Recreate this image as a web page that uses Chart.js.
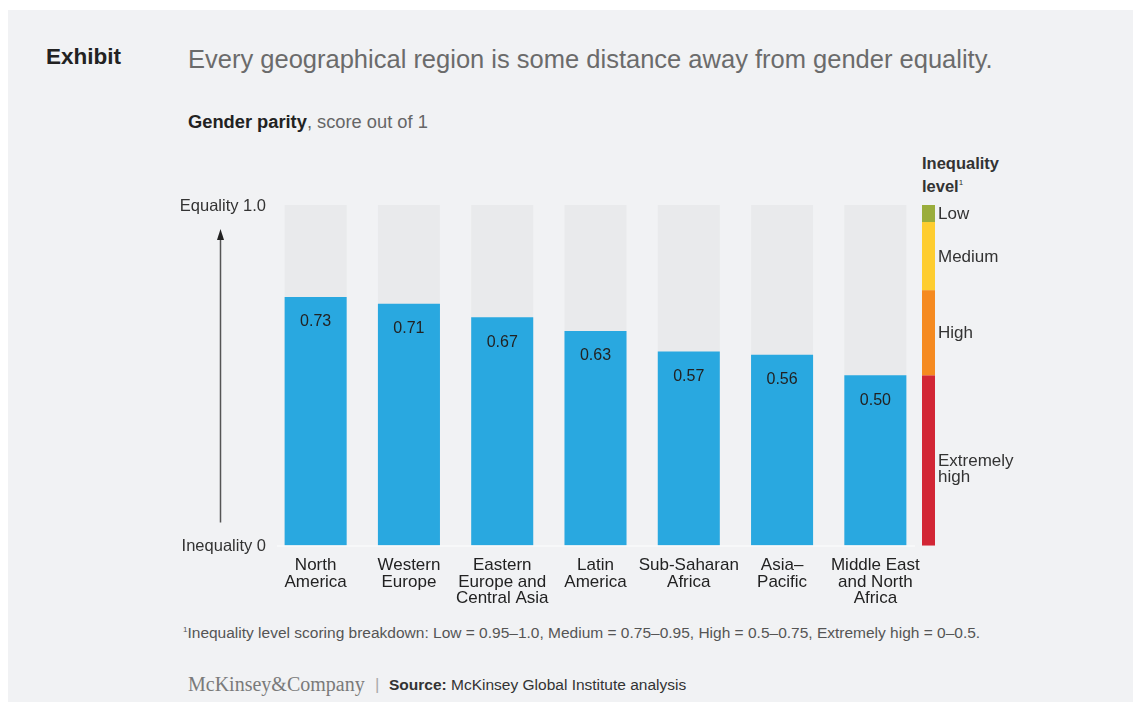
<!DOCTYPE html>
<html>
<head>
<meta charset="utf-8">
<script src="https://cdn.jsdelivr.net/npm/chart.js@4"></script>
<style>
  body { margin: 0; background: #fff; font-family: "Liberation Sans", Arial, sans-serif; }
  #panel { position: absolute; left: 8px; top: 10px; width: 1125px; height: 692px; background: #f1f2f4; }
  .t { position: absolute; white-space: nowrap; }
  #chart { position: absolute; left: 0; top: 0; }
</style>
</head>
<body>
<div id="panel"></div>
<div class="t" style="left:46px;top:44px;font-size:22.5px;font-weight:bold;color:#222;">Exhibit</div>
<div class="t" style="left:188px;top:45px;font-size:25.5px;color:#6b6b6b;">Every geographical region is some distance away from gender equality.</div>
<div class="t" style="left:188px;top:111px;font-size:18.3px;color:#666;"><b style="color:#222;">Gender parity</b>, score out of 1</div>
<div class="t" style="left:922px;top:153px;font-size:16.5px;line-height:20px;font-weight:bold;color:#333;">Inequality<br>level<sup style="font-size:8px;font-weight:normal;">1</sup></div>
<div class="t" style="left:183px;top:624px;font-size:15.5px;color:#555;"><sup style="font-size:8px;">1</sup>Inequality level scoring breakdown: Low = 0.95–1.0, Medium = 0.75–0.95, High = 0.5–0.75, Extremely high = 0–0.5.</div>
<div class="t" style="left:188px;top:673px;font-size:20px;font-family:'Liberation Serif',serif;color:#7a7a7a;">McKinsey&amp;Company</div>
<div class="t" style="left:375px;top:675px;font-size:17px;color:#aaa;">|</div>
<div class="t" style="left:389px;top:676px;font-size:15.5px;color:#333;"><b>Source:</b> McKinsey Global Institute analysis</div>
<canvas id="chart" width="1133" height="702"></canvas>
<script>
const regions = [["North", "America"], ["Western", "Europe"], ["Eastern", "Europe and", "Central Asia"], ["Latin", "America"], ["Sub-Saharan", "Africa"], ["Asia–", "Pacific"], ["Middle East", "and North", "Africa"]];
const scores = [0.73, 0.71, 0.67, 0.63, 0.57, 0.56, 0.50];
const fullScale = [1, 1, 1, 1, 1, 1, 1];
const levelNames = [["Extremely", "high"], ["High"], ["Medium"], ["Low"]];
const levelBreaks = [0, 0.5, 0.75, 0.95, 1.0];
const levelColors = ["#d22635", "#f58a20", "#fecd2f", "#9aad3c"];
const axisLabels = ["Inequality 0", "Equality 1.0"];

const FONT = '"Liberation Sans", Arial, sans-serif';

const extras = {
  id: "extras",
  afterDatasetsDraw(chart) {
    const ctx = chart.ctx;
    const y = chart.scales.y;
    const area = chart.chartArea;
    ctx.save();

    // baseline
    ctx.strokeStyle = "rgba(255,255,255,0.9)";
    ctx.lineWidth = 1;
    ctx.beginPath();
    ctx.moveTo(area.left + 8, y.getPixelForValue(0) + 0.5);
    ctx.lineTo(area.right - 7, y.getPixelForValue(0) + 0.5);
    ctx.stroke();

    // values inside bars
    ctx.font = "16px " + FONT;
    ctx.fillStyle = "#222";
    ctx.textAlign = "center";
    ctx.textBaseline = "middle";
    chart.getDatasetMeta(0).data.forEach((bar, i) => {
      ctx.fillText(scores[i].toFixed(2), bar.x, bar.y + 25);
    });

    // inequality level strip
    ctx.font = "17px " + FONT;
    ctx.textAlign = "left";
    for (let i = 0; i < levelColors.length; i++) {
      const top = y.getPixelForValue(levelBreaks[i + 1]);
      const bot = y.getPixelForValue(levelBreaks[i]);
      ctx.fillStyle = levelColors[i];
      ctx.fillRect(area.right, top, 13, bot - top);
      ctx.fillStyle = "#333";
      const mid = (top + bot) / 2;
      levelNames[i].forEach((s, k) => ctx.fillText(s, area.right + 16, mid + 1 + k * 16));
    }

    // y end labels
    ctx.font = "16.5px " + FONT;
    ctx.textAlign = "right";
    ctx.fillStyle = "#333";
    ctx.fillText(axisLabels[0], area.left - 3, y.getPixelForValue(0) + 1);
    ctx.fillText(axisLabels[1], area.left - 3, y.getPixelForValue(1) + 1);

    // arrow
    const ax = 220.5;
    const tip = y.getPixelForValue(1) + 24;
    ctx.strokeStyle = "#555";
    ctx.lineWidth = 1.5;
    ctx.beginPath();
    ctx.moveTo(ax, y.getPixelForValue(0) - 23);
    ctx.lineTo(ax, tip + 8);
    ctx.stroke();
    ctx.fillStyle = "#222";
    ctx.beginPath();
    ctx.moveTo(ax, tip);
    ctx.lineTo(ax - 3.5, tip + 11);
    ctx.lineTo(ax + 3.5, tip + 11);
    ctx.closePath();
    ctx.fill();
    ctx.restore();
  }
};

new Chart(document.getElementById("chart"), {
  type: "bar",
  data: {
    labels: regions,
    datasets: [
      { data: scores, backgroundColor: "#29a8e0", grouped: false, order: 1 },
      { data: fullScale, backgroundColor: "#e9eaec", grouped: false, order: 2 }
    ]
  },
  options: {
    responsive: false,
    animation: false,
    categoryPercentage: 1,
    barPercentage: 0.665,
    layout: { padding: { top: 205, left: 269, right: 211, bottom: 83 } },
    plugins: { legend: { display: false }, tooltip: { enabled: false } },
    scales: {
      x: {
        grid: { display: false, drawTicks: false },
        border: { display: false },
        ticks: {
          color: "#222",
          font: { size: 17, family: FONT, lineHeight: 0.97 },
          padding: 12,
          maxRotation: 0,
          autoSkip: false
        }
      },
      y: { display: false, min: 0, max: 1 }
    }
  },
  plugins: [extras]
});
</script>
</body>
</html>
